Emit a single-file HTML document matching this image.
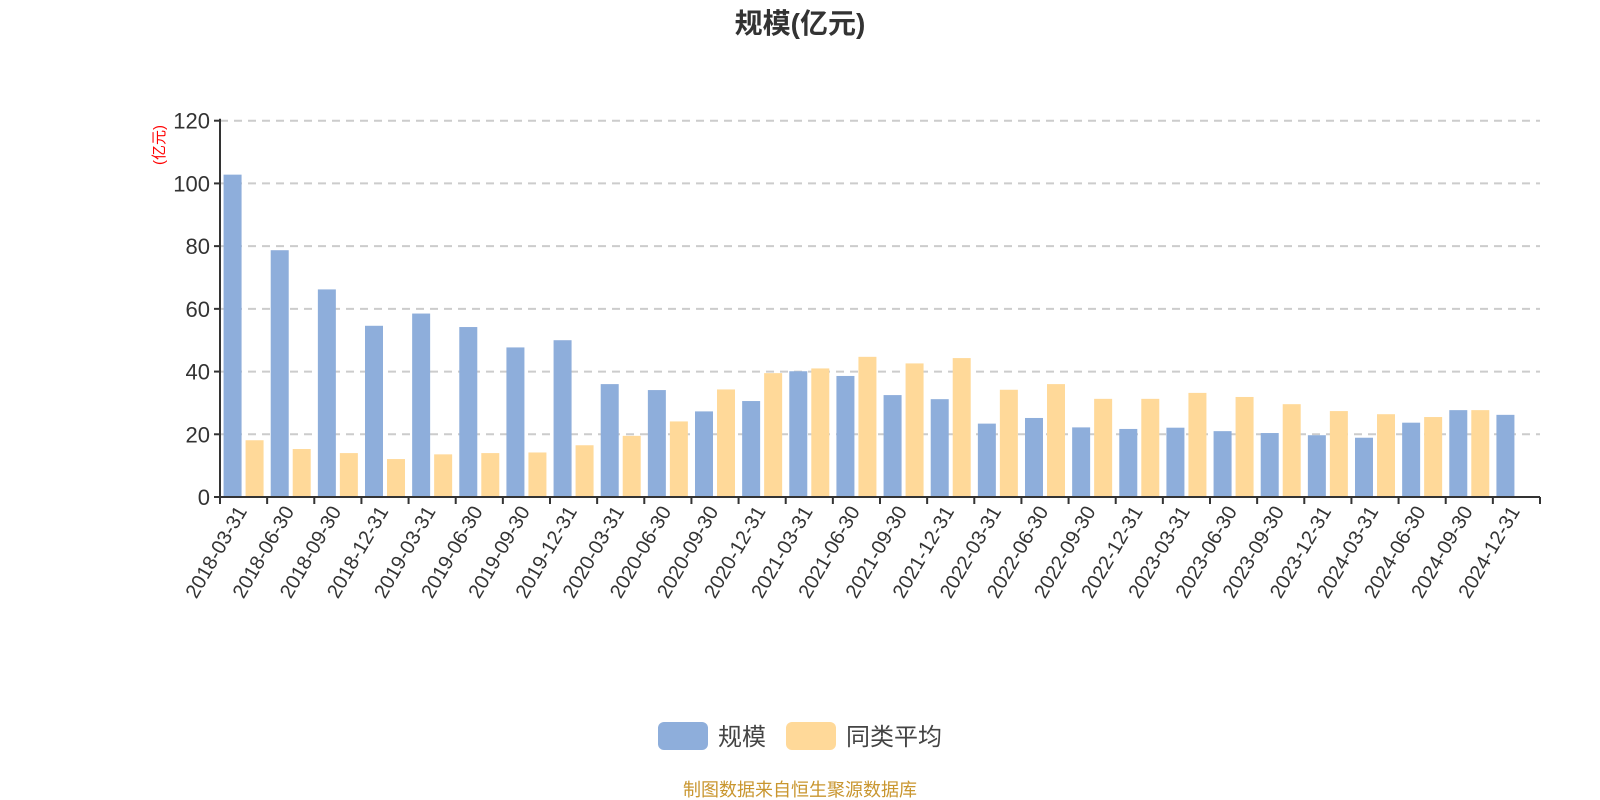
<!DOCTYPE html>
<html><head><meta charset="utf-8"><style>
html,body{margin:0;padding:0;background:#fff;}
svg{display:block;font-family:"Liberation Sans","Noto Sans CJK SC",sans-serif;}
</style></head><body>
<svg id="chart" width="1600" height="800" viewBox="0 0 1600 800">
<text x="800" y="33" text-anchor="middle" font-size="28" font-weight="bold" fill="#333">规模(亿元)</text>
<text transform="translate(164,145) rotate(-90)" text-anchor="middle" font-size="15" fill="#ff0000">(亿元)</text>
<g id="grid"></g>
<g id="yticks"></g>
<g id="bars"></g>
<g id="xaxis"></g>
<g>
<g>
<rect x="658" y="722" width="50" height="28" rx="6" fill="#8eaedb"/>
<text x="718" y="745" font-size="24" fill="#444">规模</text></g>
<g>
<rect x="786" y="722" width="50" height="28" rx="6" fill="#ffd999"/>
<text x="846" y="745" font-size="24" fill="#444">同类平均</text></g>
</g>
<text x="800" y="796" text-anchor="middle" font-size="18" fill="#c9962f">制图数据来自恒生聚源数据库</text>
</svg>
<script>
const categories=["2018-03-31","2018-06-30","2018-09-30","2018-12-31","2019-03-31","2019-06-30","2019-09-30","2019-12-31","2020-03-31","2020-06-30","2020-09-30","2020-12-31","2021-03-31","2021-06-30","2021-09-30","2021-12-31","2022-03-31","2022-06-30","2022-09-30","2022-12-31","2023-03-31","2023-06-30","2023-09-30","2023-12-31","2024-03-31","2024-06-30","2024-09-30","2024-12-31"];
const sizeValues=[102.8,78.7,66.2,54.6,58.5,54.2,47.7,50,36,34.1,27.3,30.6,40.1,38.6,32.5,31.2,23.4,25.2,22.2,21.7,22.1,21.0,20.4,19.7,18.9,23.7,27.7,26.2];
const avgValues=[18.1,15.3,14,12.1,13.6,14,14.2,16.5,19.5,24.1,34.3,39.5,41,44.7,42.6,44.3,34.2,36,31.3,31.3,33.2,31.9,29.6,27.4,26.4,25.5,27.7,null];
const yTicks=[0,20,40,60,80,100,120];
const NS="http://www.w3.org/2000/svg";
const X0=220,X1=1540,Y0=497,Y1=120.7,YMAX=120;
const band=(X1-X0)/categories.length;
const yScale=v=>Y0-(v/YMAX)*(Y0-Y1);
const xCenter=i=>X0+band*(i+0.5);
function mk(tag,attrs,parent){const e=document.createElementNS(NS,tag);for(const k in attrs)e.setAttribute(k,attrs[k]);parent.appendChild(e);return e;}
const grid=document.getElementById('grid'),yt=document.getElementById('yticks'),bars=document.getElementById('bars'),xa=document.getElementById('xaxis');
yTicks.forEach(t=>{const y=yScale(t);
 if(t>0){const l=mk('line',{x1:X0,x2:X1,y1:y,y2:y,stroke:'#ccc','stroke-width':2,'stroke-dasharray':'8,6'},grid);
 
 }
 mk('line',{x1:X0-6,x2:X0,y1:y,y2:y,stroke:'#333','stroke-width':2},yt);
 const tx=mk('text',{x:X0-10,y:y+8,'text-anchor':'end','font-size':22,fill:'#333'},yt);tx.textContent=t;
 
 
});
mk('line',{x1:X0,x2:X0,y1:Y1-2,y2:Y0,stroke:'#333','stroke-width':2},yt);
categories.forEach((c,i)=>{const cx=xCenter(i);
 const sv=sizeValues[i];
 if(sv!=null){const r=mk('rect',{x:cx-20,y:yScale(sv),width:18,height:Y0-yScale(sv),fill:'#8eaedb'},bars);
 
 }
 const av=avgValues[i];
 if(av!=null){const r=mk('rect',{x:cx+2,y:yScale(av),width:18,height:Y0-yScale(av),fill:'#ffd999'},bars);
 
 }
 const tk=X0+band*i;
 mk('line',{x1:tk,x2:tk,y1:Y0,y2:Y0+7,stroke:'#333','stroke-width':2},xa);
 const tx=mk('text',{transform:`translate(${cx+4},${Y0+14}) rotate(-60)`,'text-anchor':'end','font-size':20,fill:'#333'},xa);tx.textContent=c;
 
 
});
mk('line',{x1:X1,x2:X1,y1:Y0,y2:Y0+7,stroke:'#333','stroke-width':2},xa);
mk('line',{x1:X0,x2:X1,y1:Y0,y2:Y0,stroke:'#333','stroke-width':2},xa);
</script>
</body></html>
